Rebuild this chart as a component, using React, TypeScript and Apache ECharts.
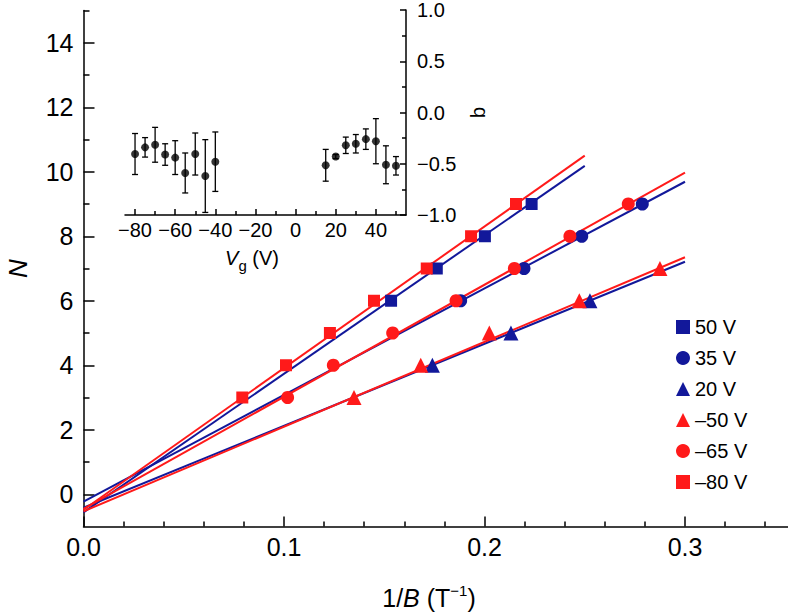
import React, { useEffect, useRef } from "react";
import * as echarts from "echarts";

// ---- main plot data: N vs 1/B ----
const xTickValues = [0, 0.1, 0.2, 0.3];
const xMinorValues = [0.02, 0.04, 0.06, 0.08, 0.12, 0.14, 0.16, 0.18, 0.22, 0.24, 0.26, 0.28, 0.32, 0.34];
const yTickValues = [0, 2, 4, 6, 8, 10, 12, 14];
const yMinorValues = [1, 3, 5, 7, 9, 11, 13, 15];

const pts50 = [[0.1534, 6], [0.1762, 7], [0.2002, 8], [0.2235, 9]];
const pts35 = [[0.1881, 6], [0.2197, 7], [0.2485, 8], [0.2787, 9]];
const pts20 = [[0.174, 4], [0.2132, 5], [0.2526, 6]];
const ptsM50 = [[0.1349, 3], [0.1682, 4], [0.2024, 5], [0.2473, 6], [0.2875, 7]];
const ptsM65 = [[0.1018, 3], [0.1246, 4], [0.1542, 5], [0.1858, 6], [0.2149, 7], [0.2426, 8], [0.2717, 9]];
const ptsM80 = [[0.0792, 3], [0.101, 4], [0.1229, 5], [0.1449, 6], [0.1712, 7], [0.1933, 8], [0.2157, 9]];

const fit50 = [[0, -0.56], [0.25, 10.18]];
const fit35 = [[0, -0.23], [0.3, 9.69]];
const fit20 = [[0, -0.42], [0.3, 7.21]];
const fitM50 = [[0, -0.53], [0.3, 7.35]];
const fitM65 = [[0, -0.45], [0.3, 9.97]];
const fitM80 = [[0, -0.48], [0.25, 10.5]];

const legendNames = ["50 V", "35 V", "20 V", "\u201350 V", "\u201365 V", "\u201380 V"];

// ---- inset data: b vs Vg ----
const insetXTicks = [-80, -60, -40, -20, 0, 20, 40];
const insetXMinor = [-70, -50, -30, -10, 10, 30, 50];
const insetYTicks = [-1, -0.5, 0, 0.5, 1];
const insetYMinor = [-0.75, -0.25, 0.25, 0.75];
const vgValues = [-80, -75, -70, -65, -60, -55, -50, -45, -40, 15, 20, 25, 30, 35, 40, 45, 50];
const bValues = [-0.405, -0.34, -0.315, -0.41, -0.44, -0.59, -0.405, -0.62, -0.48, -0.515, -0.43, -0.32, -0.305, -0.26, -0.28, -0.51, -0.52];
const bErrors = [0.2, 0.095, 0.17, 0.105, 0.165, 0.195, 0.205, 0.355, 0.29, 0.155, 0.02, 0.08, 0.09, 0.1, 0.22, 0.185, 0.09];

const BLUE = "#12189a";
const RED = "#ff1a1a";
const FONT = "Liberation Sans, Arial, sans-serif";

const minus = (s: string) => s.replace("-", "\u2212");

export default function App() {
  const ref = useRef<HTMLDivElement>(null);
  useEffect(() => {
    if (!ref.current) return;
    const chart = echarts.init(ref.current, null, { renderer: "svg" });

    const axisLineStyle = { color: "#000", width: 1.5 };
    const scatter = (name: string, data: number[][], symbol: string, size: number, color: string) => ({
      name,
      type: "scatter",
      xAxisIndex: 0,
      yAxisIndex: 0,
      data,
      symbol,
      symbolSize: size,
      itemStyle: { color, opacity: 1 },
      z: 5,
    });
    const fitLine = (data: number[][], color: string) => ({
      name: "fit",
      type: "line",
      xAxisIndex: 0,
      yAxisIndex: 0,
      data,
      showSymbol: false,
      symbol: "none",
      lineStyle: { color, width: 2 },
      z: 3,
    });

    const insetData = vgValues.map((v, i) => [v, bValues[i], bErrors[i]]);

    chart.setOption({
      animation: false,
      backgroundColor: "#fff",
      textStyle: { fontFamily: FONT, color: "#000" },
      grid: [
        { left: 83.5, top: 10.5, width: 721.8, height: 516, containLabel: false, outerBoundsMode: "none" },
        { left: 125, top: 10, width: 281, height: 205, containLabel: false, outerBoundsMode: "none" },
      ],
      xAxis: [
        {
          type: "value", gridIndex: 0, min: 0, max: 0.36, position: "bottom",
          axisLine: { show: true, onZero: false, lineStyle: axisLineStyle },
          axisTick: { show: true, inside: true, length: 10, customValues: xTickValues, lineStyle: axisLineStyle },
          axisLabel: { customValues: xTickValues, formatter: (v: number) => v.toFixed(1), fontSize: 25, color: "#000", margin: 8, fontFamily: FONT },
          splitLine: { show: false },
        },
        {
          type: "value", gridIndex: 0, min: 0, max: 0.36, position: "bottom",
          axisLine: { show: false, onZero: false },
          axisTick: { show: true, inside: true, length: 5, customValues: xMinorValues, lineStyle: axisLineStyle },
          axisLabel: { show: false },
          splitLine: { show: false },
        },
        {
          type: "value", gridIndex: 1, min: -85, max: 55, position: "bottom",
          axisLine: { show: true, onZero: false, lineStyle: axisLineStyle },
          axisTick: { show: true, inside: true, length: 6, customValues: insetXTicks, lineStyle: axisLineStyle },
          axisLabel: { customValues: insetXTicks, formatter: (v: number) => minus(String(v)), fontSize: 20, color: "#000", margin: 5, fontFamily: FONT },
          splitLine: { show: false },
        },
        {
          type: "value", gridIndex: 1, min: -85, max: 55, position: "bottom",
          axisLine: { show: false, onZero: false },
          axisTick: { show: true, inside: true, length: 4, customValues: insetXMinor, lineStyle: axisLineStyle },
          axisLabel: { show: false },
          splitLine: { show: false },
        },
      ],
      yAxis: [
        {
          type: "value", gridIndex: 0, min: -1, max: 15, position: "left",
          name: "N", nameLocation: "middle", nameGap: 53, nameRotate: 90,
          nameTextStyle: { fontSize: 26, fontStyle: "italic", color: "#000", fontFamily: FONT },
          axisLine: { show: true, onZero: false, lineStyle: axisLineStyle },
          axisTick: { show: true, inside: true, length: 11, customValues: yTickValues, lineStyle: axisLineStyle },
          axisLabel: { customValues: yTickValues, fontSize: 25, color: "#000", margin: 10, fontFamily: FONT },
          splitLine: { show: false },
        },
        {
          type: "value", gridIndex: 0, min: -1, max: 15, position: "left",
          axisLine: { show: false, onZero: false },
          axisTick: { show: true, inside: true, length: 6, customValues: yMinorValues, lineStyle: axisLineStyle },
          axisLabel: { show: false },
          splitLine: { show: false },
        },
        {
          type: "value", gridIndex: 1, min: -1, max: 1, position: "right",
          name: "b", nameLocation: "middle", nameGap: 62, nameRotate: 90,
          nameTextStyle: { fontSize: 20, color: "#000", fontFamily: FONT },
          axisLine: { show: true, onZero: false, lineStyle: axisLineStyle },
          axisTick: { show: true, inside: true, length: 6, customValues: insetYTicks, lineStyle: axisLineStyle },
          axisLabel: { customValues: insetYTicks, formatter: (v: number) => minus(v.toFixed(1)), fontSize: 20, color: "#000", margin: 11, fontFamily: FONT },
          splitLine: { show: false },
        },
        {
          type: "value", gridIndex: 1, min: -1, max: 1, position: "right",
          axisLine: { show: false, onZero: false },
          axisTick: { show: true, inside: true, length: 4, customValues: insetYMinor, lineStyle: axisLineStyle },
          axisLabel: { show: false },
          splitLine: { show: false },
        },
      ],
      legend: {
        orient: "vertical",
        left: 671,
        top: 312,
        itemWidth: 14,
        itemHeight: 14,
        itemGap: 11,
        itemTextGap: 7,
        data: legendNames,
        textStyle: { fontSize: 20, color: "#000", fontFamily: FONT, lineHeight: 20 },
        selectedMode: false,
      },
      series: [
        fitLine(fit50, BLUE),
        fitLine(fit35, BLUE),
        fitLine(fit20, BLUE),
        fitLine(fitM50, RED),
        fitLine(fitM65, RED),
        fitLine(fitM80, RED),
        scatter(legendNames[0], pts50, "rect", 12, BLUE),
        scatter(legendNames[1], pts35, "circle", 13, BLUE),
        scatter(legendNames[2], pts20, "triangle", 15, BLUE),
        scatter(legendNames[3], ptsM50, "triangle", 15, RED),
        scatter(legendNames[4], ptsM65, "circle", 13, RED),
        scatter(legendNames[5], ptsM80, "rect", 12, RED),
        {
          name: "errors",
          type: "custom",
          xAxisIndex: 2,
          yAxisIndex: 2,
          data: insetData,
          encode: { x: 0, y: 1 },
          renderItem: (params: any, api: any) => {
            const x = api.value(0);
            const y = api.value(1);
            const e = api.value(2);
            const top = api.coord([x, y + e]);
            const bot = api.coord([x, y - e]);
            const st = { stroke: "#000", lineWidth: 1.3 };
            return {
              type: "group",
              children: [
                { type: "line", shape: { x1: top[0], y1: top[1], x2: bot[0], y2: bot[1] }, style: st },
                { type: "line", shape: { x1: top[0] - 3, y1: top[1], x2: top[0] + 3, y2: top[1] }, style: st },
                { type: "line", shape: { x1: bot[0] - 3, y1: bot[1], x2: bot[0] + 3, y2: bot[1] }, style: st },
              ],
            };
          },
          z: 4,
        },
        {
          name: "b",
          type: "scatter",
          xAxisIndex: 2,
          yAxisIndex: 2,
          data: insetData.map((d) => [d[0], d[1]]),
          symbol: "circle",
          symbolSize: 8,
          itemStyle: { color: "#000" },
          z: 5,
        },
      ],
      graphic: [
        {
          type: "text",
          x: 429,
          y: 598,
          style: {
            text: "1/{i|B} (T{sup|\u22121})",
            fontSize: 25,
            fontFamily: FONT,
            fill: "#000",
            align: "center",
            verticalAlign: "middle",
            rich: {
              i: { fontSize: 25, fontStyle: "italic", fontFamily: FONT },
              sup: { fontSize: 15, fontFamily: FONT, padding: [0, 0, 16, 0] },
            },
          },
        },
        {
          type: "text",
          x: 252,
          y: 258,
          style: {
            text: "{i|V}{sub|g} (V)",
            fontSize: 20,
            fontFamily: FONT,
            fill: "#000",
            align: "center",
            verticalAlign: "middle",
            rich: {
              i: { fontSize: 20, fontStyle: "italic", fontFamily: FONT },
              sub: { fontSize: 15, fontFamily: FONT, padding: [14, 0, 0, 0] },
            },
          },
        },
      ],
    });
    return () => chart.dispose();
  }, []);
  return <div ref={ref} style={{ position: "absolute", left: 0, top: 0, width: 788, height: 613 }} />;
}
